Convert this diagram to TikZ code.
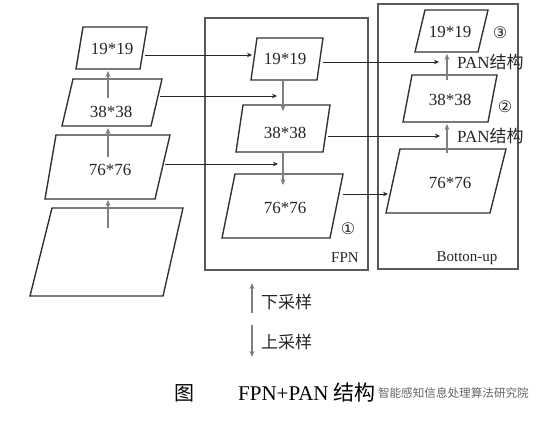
\documentclass[tikz,border=0pt]{standalone}
\usepackage{fontspec}
\setmainfont{Liberation Serif}
\newfontfamily\cjk{Noto Sans CJK SC}
\newfontfamily\sym{DejaVu Sans}
\usetikzlibrary{arrows.meta,calc}
\begin{document}
\begin{tikzpicture}[x=1pt,y=-1pt,
 pg/.style={draw=black!80,line width=1.4pt,line join=miter},
 frame/.style={draw=black!65,line width=1.3pt},
 lbl/.style={font=\fontsize{17}{20}\selectfont,text=black!85,inner sep=0pt},
 small/.style={font=\fontsize{15}{18}\selectfont,text=black!85,inner sep=0pt},
 circ/.style={font=\fontsize{16}{18}\selectfont,text=black!85,inner sep=0pt},
 conn/.style={draw=black!85,line width=0.8pt,-{Stealth[length=5pt,width=4.5pt]}},
 samp/.style={draw=black!50,line width=1.6pt,-{Stealth[length=6pt,width=5pt]}},
]
\useasboundingbox (0,0) rectangle (552,423);
\fill[white] (0,0) rectangle (552,423);

% frames
\draw[frame] (205,18) rectangle (368,270);
\draw[frame] (378,4) rectangle (518,269);

% left column
\draw[pg] (83,27) -- (147,27) -- (140,69) -- (76,69) -- cycle;
\draw[pg] (73,79) -- (162,79) -- (151,126) -- (62,126) -- cycle;
\draw[pg] (56,135) -- (170,135) -- (155,199) -- (45,199) -- cycle;
\draw[pg] (52,208) -- (183,208) -- (163,296) -- (30,296) -- cycle;
\node[lbl] (l19) at (112,49) {19*19};
\node[lbl] (l38) at (111,112) {38*38};
\node[lbl] (l76) at (110,170) {76*76};

% FPN column
\draw[pg] (257,38) -- (323,38) -- (317,80) -- (251,80) -- cycle;
\draw[pg] (243,105) -- (330,105) -- (323,152) -- (236,152) -- cycle;
\draw[pg] (235,174) -- (343,174) -- (330,238) -- (222,238) -- cycle;
\node[lbl] (f19) at (285,59) {19*19};
\node[lbl] (f38) at (285,133) {38*38};
\node[lbl] (f76) at (285,208) {76*76};
\node[circ] (c1) at (348,229) {\sym ①};
\node[small] (fpn) at (345,258) {FPN};

% Bottom-up column
\draw[pg] (425,10) -- (488,10) -- (478,52) -- (415,52) -- cycle;
\draw[pg] (412,75) -- (497,75) -- (488,122) -- (403,122) -- cycle;
\draw[pg] (400,149) -- (506,149) -- (490,213) -- (386,213) -- cycle;
\node[lbl] (b19) at (450,32) {19*19};
\node[lbl] (b38) at (450,100) {38*38};
\node[lbl] (b76) at (450,183) {76*76};
\node[circ] (c3) at (500,33) {\sym ③};
\node[circ] (c2) at (505,107) {\sym ②};
\node[lbl,anchor=west] (pan1) at (457,62) {PAN{\cjk 结构}};
\node[lbl,anchor=west] (pan2) at (457,136) {PAN{\cjk 结构}};
\node[small] (bu) at (467,258) {Botton-up};

% lateral connectors
\coordinate (l19o) at (145,55);  \coordinate (f19i) at (252,55);
\coordinate (l38o) at (160,96);  \coordinate (f38i) at (277,96);
\coordinate (l76o) at (165,164); \coordinate (f76i) at (278,164);
\coordinate (f19o) at (323,62);  \coordinate (b38i) at (439,62);
\coordinate (f38o) at (328,136); \coordinate (b76i) at (440,136);
\coordinate (f76o) at (343,194); \coordinate (b76l) at (388,194);
\draw[conn] (l19o) -- (f19i);
\draw[conn] (l38o) -- (f38i);
\draw[conn] (l76o) -- (f76i);
\draw[conn] (f19o) -- (b38i);
\draw[conn] (f38o) -- (b76i);
\draw[conn] (f76o) -- (b76l);

% sampling arrows
\coordinate (ls0) at (108,228); \coordinate (ls1) at (108,200);
\coordinate (ls2) at (108,157); \coordinate (ls3) at (108,128);
\coordinate (ls4) at (108,98);  \coordinate (ls5) at (108,71);
\draw[samp] (ls0) -- (ls1);
\draw[samp] (ls2) -- (ls3);
\draw[samp] (ls4) -- (ls5);
\coordinate (fs0) at (283,80);  \coordinate (fs1) at (283,111);
\coordinate (fs2) at (283,152); \coordinate (fs3) at (283,185);
\draw[samp] (fs0) -- (fs1);
\draw[samp] (fs2) -- (fs3);
\coordinate (bs0) at (447,153); \coordinate (bs1) at (447,124);
\coordinate (bs2) at (447,80);  \coordinate (bs3) at (447,54);
\draw[samp] (bs0) -- (bs1);
\draw[samp] (bs2) -- (bs3);

% legend
\coordinate (g0) at (252,313); \coordinate (g1) at (252,283);
\coordinate (g2) at (252,325); \coordinate (g3) at (252,357);
\draw[samp] (g0) -- (g1);
\draw[samp] (g2) -- (g3);
\node[lbl,anchor=west] (down) at (261,302) {\cjk 下采样};
\node[lbl,anchor=west] (up) at (261,342) {\cjk 上采样};

% caption
\node[font=\fontsize{20}{24}\selectfont,inner sep=0pt] (fig) at (184,393) {\cjk 图};
\node[font=\fontsize{21}{24}\selectfont,inner sep=0pt,anchor=west] (cap) at (238,393) {FPN+PAN {\cjk 结构}};
\node[font=\fontsize{11.6}{14}\selectfont,text=black!60,inner sep=0pt,anchor=east] (wm) at (529,393) {\cjk 智能感知信息处理算法研究院};
\end{tikzpicture}
\end{document}
